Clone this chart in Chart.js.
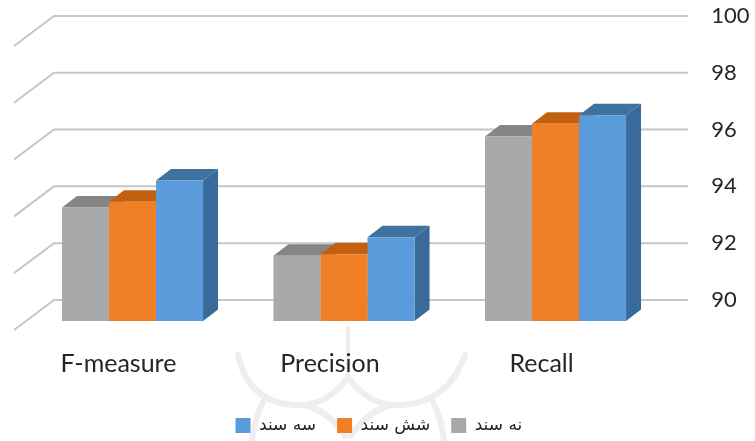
<!DOCTYPE html>
<html>
<head>
<meta charset="utf-8">
<style>
  html, body { margin: 0; padding: 0; background: #fff; }
  canvas { display: block; }
</style>
<script src="https://cdn.jsdelivr.net/npm/chart.js@4/dist/chart.umd.min.js"></script>
</head>
<body>
<canvas id="chart" width="755" height="441"></canvas>
<script>
const categories = ['F-measure', 'Precision', 'Recall'];
const tickLabels = [90, 92, 94, 96, 98, 100];
const nineDocs = [94.0, 92.3, 96.5];
const sixDocs = [94.2, 92.35, 96.95];
const threeDocs = [94.95, 92.95, 97.25];

const seriesNames = ['نه سند', 'شش سند', 'سه سند'];
const frontColors = ['#a7a9aa', '#f07f26', '#5a9bdc'];
const topColors = ['#858585', '#c2600f', '#3f729f'];
const sideColors = ['#808080', '#b85a10', '#386b99'];

// the 3d look: how far the back wall sits behind the front of the bars
const depthX = 15;
const depthY = 11.5;
const wallDrop = 21 / 28.3; // back wall is 21px above the floor front, in axis units

// faint ornament behind the legend (watermark of the scanned page)
const watermark = {
  id: 'watermark',
  beforeDraw(chart) {
    const { ctx } = chart;
    ctx.save();
    ctx.strokeStyle = '#eeeeee';
    ctx.lineWidth = 6;
    ctx.lineCap = 'round';
    [
      [238, 355, 250, 408, 305, 405],
      [305, 405, 330, 402, 348, 377],
      [348, 377, 366, 402, 391, 405],
      [391, 405, 446, 408, 465, 355],
      [263, 402, 254, 420, 252, 441],
      [305, 405, 330, 412, 345, 436],
      [391, 405, 366, 412, 351, 436],
      [433, 402, 442, 420, 444, 441]
    ].forEach(([x0, y0, cx, cy, x1, y1]) => {
      ctx.beginPath();
      ctx.moveTo(x0, y0);
      ctx.quadraticCurveTo(cx, cy, x1, y1);
      ctx.stroke();
    });
    ctx.lineWidth = 4;
    ctx.beginPath();
    ctx.moveTo(348, 328);
    ctx.lineTo(348, 377);
    ctx.stroke();
    ctx.restore();
  }
};

const extrude = {
  id: 'extrude',
  // legend sits centred on the whole picture, not on the padded plot
  afterLayout(chart) {
    chart.legend.left -= 12;
    chart.legend.right -= 12;
  },
  beforeDatasetsDraw(chart) {
    const { ctx, scales } = chart;
    // gridlines on the back wall, with the short run down the side wall
    ctx.save();
    ctx.strokeStyle = '#c6c6c6';
    ctx.lineWidth = 2;
    tickLabels.forEach(t => {
      const y = scales.y.getPixelForValue(t);
      ctx.beginPath();
      ctx.moveTo(14, y + 30);
      ctx.lineTo(54, y);
      ctx.lineTo(688, y);
      ctx.stroke();
    });
    // side and top faces behind the fronts
    chart.data.datasets.forEach((ds, i) => {
      chart.getDatasetMeta(i).data.forEach(bar => {
        const left = bar.x - bar.width / 2;
        const right = bar.x + bar.width / 2;
        ctx.fillStyle = sideColors[i];
        ctx.beginPath();
        ctx.moveTo(right, bar.y);
        ctx.lineTo(right + depthX, bar.y - depthY);
        ctx.lineTo(right + depthX, bar.base - depthY);
        ctx.lineTo(right, bar.base);
        ctx.closePath();
        ctx.fill();
        ctx.fillStyle = topColors[i];
        ctx.beginPath();
        ctx.moveTo(left, bar.y);
        ctx.lineTo(left + depthX, bar.y - depthY);
        ctx.lineTo(right + depthX, bar.y - depthY);
        ctx.lineTo(right, bar.y);
        ctx.closePath();
        ctx.fill();
      });
    });
    ctx.restore();
  }
};

new Chart(document.getElementById('chart'), {
  type: 'bar',
  data: {
    labels: categories,
    datasets: [nineDocs, sixDocs, threeDocs].map((values, i) => ({
      label: seriesNames[i],
      data: values,
      base: tickLabels[0],
      yAxisID: 'bars',
      backgroundColor: frontColors[i],
      categoryPercentage: 0.667,
      barPercentage: 1
    }))
  },
  options: {
    responsive: false,
    animation: false,
    layout: { padding: { left: 26.75, top: 16, bottom: -3 } },
    plugins: {
      tooltip: { enabled: false },
      legend: {
        position: 'bottom',
        reverse: true,
        labels: {
          boxWidth: 15,
          boxHeight: 15,
          padding: 21,
          color: '#222',
          font: { family: '"DejaVu Sans"', size: 17 }
        }
      }
    },
    scales: {
      x: {
        grid: { display: false },
        border: { display: false },
        afterFit(scale) { scale.height = 75; },
        ticks: {
          padding: 20,
          labelOffset: -14,
          maxRotation: 0,
          color: '#262626',
          font: { family: 'Lato', size: 25 }
        }
      },
      y: {
        position: 'right',
        min: 90 - wallDrop,
        max: 100,
        grid: { display: false, drawTicks: false },
        border: { display: false },
        afterBuildTicks(scale) { scale.ticks = tickLabels.map(value => ({ value })); },
        afterFit(scale) {
          scale.width = 93.75;
          scale.paddingTop = 0;
          scale.paddingBottom = 0;
        },
        ticks: {
          padding: 50,
          crossAlign: 'near',
          color: '#262626',
          font: { family: 'Lato', size: 22 }
        }
      },
      bars: {
        display: false,
        min: 90,
        max: 100 + wallDrop
      }
    }
  },
  plugins: [watermark, extrude]
});
</script>
</body>
</html>
